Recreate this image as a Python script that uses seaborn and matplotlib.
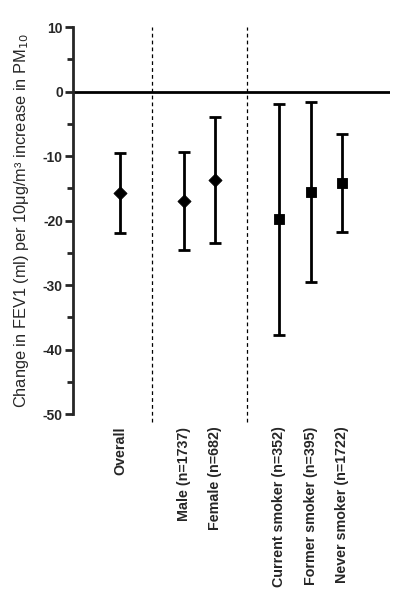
import matplotlib
matplotlib.use("Agg")
import matplotlib.pyplot as plt
import seaborn as sns
import pandas as pd
import numpy as np

categories = ["Overall", "Male (n=1737)", "Female (n=682)",
              "Current smoker (n=352)", "Former smoker (n=395)", "Never smoker (n=1722)"]
positions = [0, 2, 3, 5, 6, 7]
estimates = [-15.8, -17.0, -13.7, -19.8, -15.5, -14.2]
lower_ci = [-22.0, -24.6, -23.5, -37.8, -29.5, -21.8]
upper_ci = [-9.6, -9.3, -3.9, -1.9, -1.6, -6.6]
markers = ["D", "D", "D", "s", "s", "s"]
separators = [1, 4]

sns.set_theme(style="ticks")
plt.rcParams['font.family'] = ['Liberation Sans', 'DejaVu Sans']

df = pd.DataFrame({"cat": categories, "pos": positions, "est": estimates,
                   "lo": lower_ci, "hi": upper_ci, "mk": markers})

fig = plt.figure(figsize=(4.08, 6.01), dpi=100)
ax = fig.add_axes([0.178, 0.311, 0.778, 0.644])

for _, r in df.iterrows():
    ax.errorbar(r["pos"], r["est"], yerr=[[r["est"] - r["lo"]], [r["hi"] - r["est"]]],
                fmt="none", ecolor="black", elinewidth=2, capsize=4.5, capthick=2, zorder=3)
sns.scatterplot(data=df[df.mk == "D"], x="pos", y="est", marker="D", s=45,
                color="black", edgecolor="black", ax=ax, zorder=4, legend=False)
sns.scatterplot(data=df[df.mk == "s"], x="pos", y="est", marker="s", s=60,
                color="black", edgecolor="black", ax=ax, zorder=4, legend=False)

ax.axhline(0, color="black", lw=2, zorder=2)
for s in separators:
    ax.plot([s, s], [-51.2, 10], ls=(0, (3, 2.5)), color="black", lw=0.9, clip_on=False)

ax.set_xlim(-1.5, 8.5)
ax.set_ylim(-50, 10)
ax.set_yticks(np.arange(-50, 11, 10))
ax.set_yticks(np.arange(-45, 10, 10), minor=True)
ax.set_yticklabels([str(v) for v in range(-50, 11, 10)], fontweight="bold", fontsize=10)
ax.tick_params(axis="y", which="major", length=6, width=2, direction="out", pad=1)
ax.tick_params(axis="y", which="minor", length=4, width=2, direction="out")

ax.set_xticks(positions)
ax.set_xticklabels(categories, rotation=90, fontweight="bold", fontsize=10.3, va="top")
ax.tick_params(axis="x", length=0, pad=9)

for sp in ["top", "right", "bottom"]:
    ax.spines[sp].set_visible(False)
ax.spines["left"].set_linewidth(2)

ax.set_xlabel("")
ax.set_ylabel("Change in FEV1 (ml) per 10μg/m³ increase in PM$_{10}$", fontsize=11.8)
ax.yaxis.set_label_coords(-0.13, 0.5)

fig.savefig("out.png", dpi=100)
